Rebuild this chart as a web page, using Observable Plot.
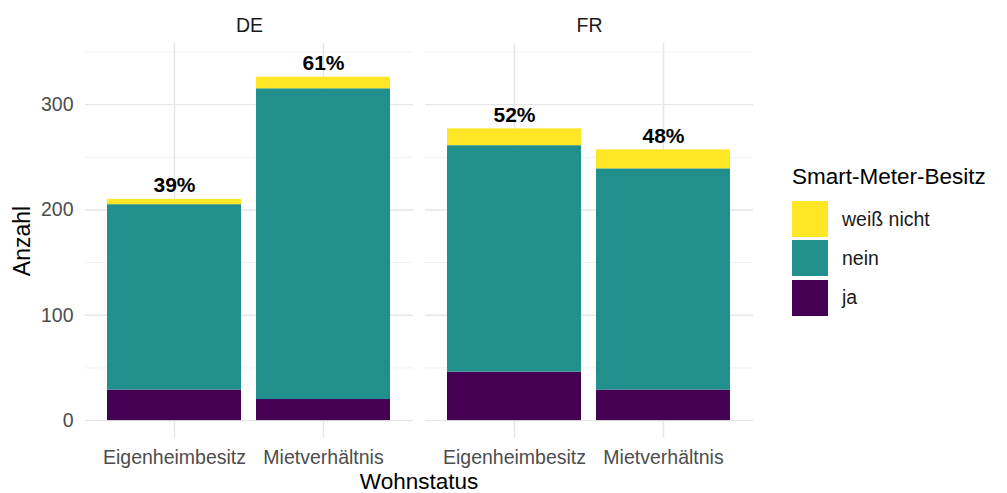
<!DOCTYPE html>
<html>
<head>
<meta charset="utf-8">
<script src="https://cdn.jsdelivr.net/npm/d3@7"></script>
<script src="https://cdn.jsdelivr.net/npm/@observablehq/plot@0.6"></script>
<style>
  html, body { margin: 0; padding: 0; background: #fff; }
  #wrap { position: relative; width: 1007px; height: 493px; font-family: "Liberation Sans", Arial, sans-serif; overflow: hidden; }
  .ttl { position: absolute; color: #000; font-size: 22.5px; white-space: nowrap; line-height: 1; }
  .key { position: absolute; width: 36px; height: 36px; }
  .klab { position: absolute; font-size: 19.5px; color: #1a1a1a; white-space: nowrap; line-height: 1; }
</style>
</head>
<body>
<div id="wrap">
  <div id="chart"></div>
</div>
<script>
// ---- data ----
const laender = ["DE", "FR"];
const wohnstatus = ["Eigenheimbesitz", "Mietverhältnis"];
const besitz = ["ja", "nein", "weiß nicht"];
const besitzColors = ["#440154", "#21908C", "#FDE725"];
// groups in order: DE-Eigenheimbesitz, DE-Mietverhältnis, FR-Eigenheimbesitz, FR-Mietverhältnis
const groupLand = ["DE", "DE", "FR", "FR"];
const groupWohn = ["Eigenheimbesitz", "Mietverhältnis", "Eigenheimbesitz", "Mietverhältnis"];
const jaValues = [29, 20, 46, 29];
const neinValues = [176, 295, 215, 210];
const weissNichtValues = [5, 11, 16, 18];
const percentLabels = ["39%", "61%", "52%", "48%"];
const yTicks = [0, 100, 200, 300];
const yMinor = [50, 150, 250, 350];

// ---- build tables ----
const seriesValues = [jaValues, neinValues, weissNichtValues];
const rows = [];
groupLand.forEach((land, i) => {
  besitz.forEach((b, j) => {
    rows.push({land, wohn: groupWohn[i], besitz: b, n: seriesValues[j][i]});
  });
});
const totals = groupLand.map((land, i) => ({
  land, wohn: groupWohn[i],
  total: jaValues[i] + neinValues[i] + weissNichtValues[i],
  label: percentLabels[i]
}));

const W = 1007, H = 493;
const chart = Plot.plot({
  width: W, height: H,
  marginTop: 43, marginBottom: 55, marginLeft: 85, marginRight: 254,
  style: {fontFamily: '"Liberation Sans", Arial, sans-serif', background: "#fff", overflow: "visible"},
  fx: {domain: laender, paddingInner: 12 / 340, paddingOuter: 0, label: null},
  x: {domain: wohnstatus, paddingInner: 0.1, paddingOuter: 0.15, label: null},
  y: {domain: [-17, 358], label: null},
  color: {domain: besitz, range: besitzColors},
  marks: [
    Plot.ruleY(yMinor, {stroke: "#ececec", strokeWidth: 0.8}),
    Plot.ruleY(yTicks, {stroke: "#e6e6e6", strokeWidth: 1.4}),
    Plot.ruleX(wohnstatus, {x: d => d, stroke: "#e6e6e6", strokeWidth: 1.4}),
    Plot.barY(rows, {x: "wohn", y: "n", fill: "besitz", fx: "land", order: besitz}),
    Plot.text(totals, {x: "wohn", y: "total", fx: "land", text: "label", lineAnchor: "bottom", dy: -7,
      fontSize: 21, fontWeight: "bold", fill: "#000"}),
    Plot.axisY({ticks: yTicks, tickSize: 0, tickPadding: 12, fontSize: 19.5, fill: "#4d4d4d", label: null}),
    Plot.axisX({tickSize: 0, tickPadding: 12, fontSize: 19.5, fill: "#4d4d4d", label: null}),
    Plot.axisFx({anchor: "top", tickSize: 0, tickPadding: 12, fontSize: 19.5, fill: "#1a1a1a", label: null})
  ]
});
const wrap = document.getElementById("wrap");
document.getElementById("chart").appendChild(chart);

// axis titles
const yT = document.createElement("div");
yT.className = "ttl";
yT.textContent = "Anzahl";
yT.style.fontSize = "23px";
yT.style.left = "22px"; yT.style.top = "241px";
yT.style.transform = "translate(-50%, -50%) rotate(-90deg)";
wrap.appendChild(yT);

const xT = document.createElement("div");
xT.className = "ttl";
xT.textContent = "Wohnstatus";
xT.style.left = "419px"; xT.style.top = "471px";
xT.style.transform = "translateX(-50%)";
wrap.appendChild(xT);

// legend
const lt = document.createElement("div");
lt.className = "ttl";
lt.textContent = "Smart-Meter-Besitz";
lt.style.left = "792px"; lt.style.top = "166px";
wrap.appendChild(lt);
const legendOrder = besitz.slice().reverse();
legendOrder.forEach((b, i) => {
  const top = 201 + i * 39.4;
  const k = document.createElement("div");
  k.className = "key";
  k.style.left = "792px"; k.style.top = top + "px";
  k.style.background = besitzColors[besitz.indexOf(b)];
  wrap.appendChild(k);
  const l = document.createElement("div");
  l.className = "klab";
  l.textContent = b;
  l.style.left = "842px"; l.style.top = (top + 8.5) + "px";
  wrap.appendChild(l);
});
</script>
</body>
</html>
